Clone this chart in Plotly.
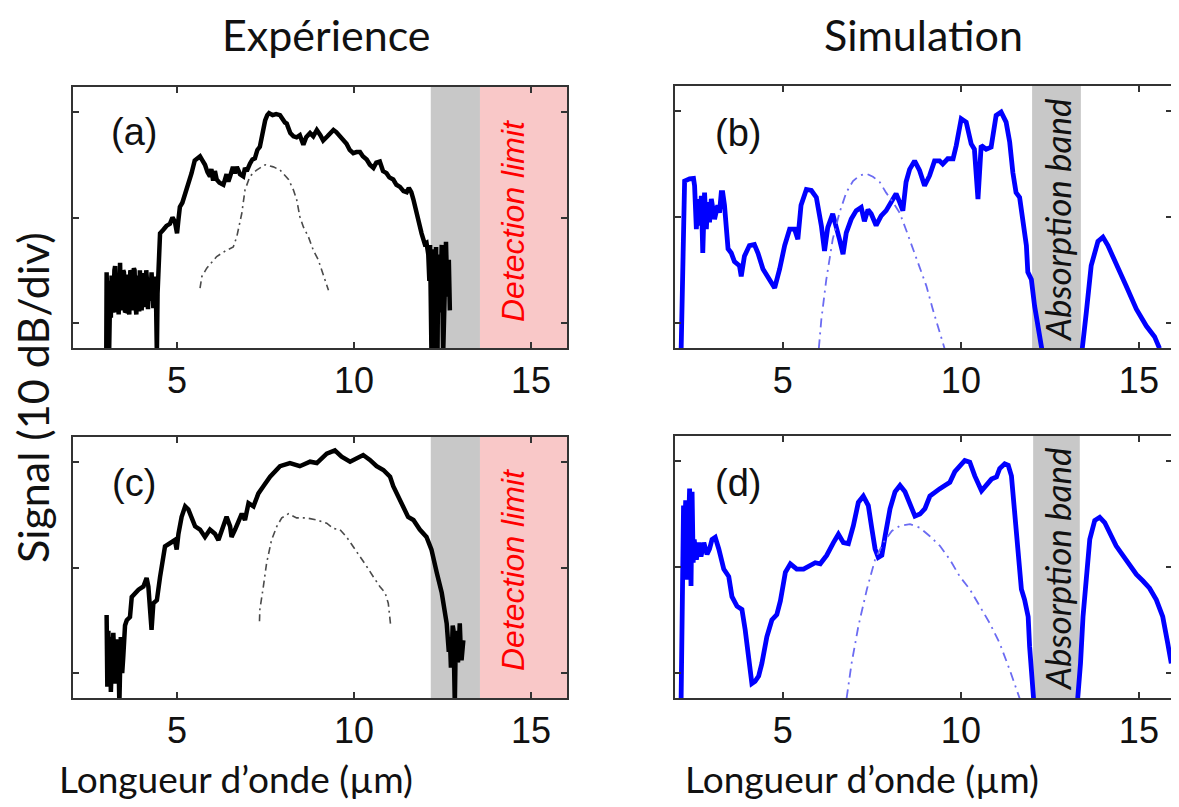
import plotly.graph_objects as go

W, H = 1179, 807
PAGE_PAD = 8  # browser body margin around the plot div

# ---- panel (a): experiment, top row -------------------------------------
a_x = [3.00, 3.01, 3.03, 3.04, 3.06, 3.08, 3.11, 3.13, 3.15, 3.18, 3.20, 3.23,
       3.25, 3.28, 3.30, 3.33, 3.35, 3.39, 3.42, 3.45, 3.48, 3.50, 3.53, 3.55,
       3.58, 3.60, 3.63, 3.65, 3.68, 3.70, 3.73, 3.75, 3.78, 3.80, 3.83, 3.85,
       3.88, 3.90, 3.93, 3.95, 3.98, 4.00, 4.03, 4.05, 4.08, 4.10, 4.13, 4.15,
       4.18, 4.20, 4.23, 4.25, 4.28, 4.30, 4.33, 4.35, 4.38, 4.40, 4.43, 4.45,
       4.48, 4.52,
       4.60, 4.70, 4.80, 4.87, 4.94, 5.00, 5.04, 5.08, 5.15, 5.27, 5.35, 5.41,
       5.50, 5.56, 5.65, 5.72, 5.79, 5.86, 5.93, 5.97, 6.02, 6.07, 6.12, 6.20,
       6.31, 6.40, 6.45, 6.50, 6.58, 6.63, 6.69, 6.78, 6.87, 6.92, 6.97, 7.06,
       7.13, 7.20, 7.27, 7.34, 7.40, 7.49, 7.55, 7.60, 7.70, 7.80, 7.91, 7.98,
       8.05, 8.10, 8.20, 8.29, 8.38, 8.47, 8.52, 8.57, 8.65, 8.76, 8.85, 8.95,
       9.05, 9.13, 9.25, 9.42, 9.50, 9.60, 9.70, 9.79, 9.88, 9.98, 10.07, 10.17,
       10.25, 10.36, 10.45, 10.55, 10.63, 10.73, 10.82, 10.92, 11.00, 11.11,
       11.20, 11.30, 11.40, 11.49, 11.55, 11.62, 11.68, 11.77, 11.85, 11.91,
       12.00, 12.05, 12.10, 12.13, 12.15, 12.17, 12.19, 12.21, 12.23, 12.26,
       12.28, 12.30, 12.32, 12.34, 12.36, 12.38, 12.40, 12.43, 12.45, 12.48,
       12.52, 12.56, 12.60, 12.64, 12.68, 12.71]
a_y = [-23, -15.2, -19.0, -17.5, -16.0, -23, -17.0, -19.5, -15.5, -19.0, -18.5,
       -15.0, -14.6, -19.0, -17.8, -15.3, -19.2, -14.3, -18.8, -17.5, -15.0,
       -15.2, -19.0, -18.9, -15.4, -16.0, -18.6, -19.2, -15.0, -15.2, -18.8,
       -17.5, -14.8, -15.0, -18.5, -19.2, -15.5, -16.4, -18.9, -15.0, -17.8,
       -18.8, -15.3, -15.5, -18.5, -17.2, -15.0, -16.0, -18.7, -15.8, -17.9,
       -17.3, -15.2, -16.1, -18.6, -17.5, -15.6, -16.5, -23, -17.2, -13.0,
       -11.5,
       -11.2, -10.8, -10.6, -10.0, -10.4, -11.5, -10.2, -9.0, -8.6, -7.4, -6.3,
       -5.8, -4.6, -4.4, -4.2, -4.6, -5.0, -5.7, -6.1, -5.4, -6.5, -5.6, -6.4,
       -6.7, -6.9, -5.9, -6.6, -6.1, -5.2, -5.8, -5.2, -5.9, -6.1, -5.3, -5.6,
       -4.9, -4.5, -4.4, -3.6, -3.3, -2.2, -0.8, -0.3, -0.1, -0.3, -0.2, -0.3,
       -0.7, -1.0, -1.1, -2.0, -2.3, -2.4, -2.2, -2.7, -3.1, -2.4, -2.0, -2.3,
       -1.7, -2.2, -2.7, -2.3, -1.7, -1.9, -2.3, -2.6, -3.0, -3.6, -3.9, -3.8,
       -3.8, -4.2, -4.5, -5.0, -5.3, -4.8, -4.7, -5.6, -5.8, -6.2, -6.4, -6.9,
       -7.1, -7.5, -7.6, -7.2, -7.6, -8.3, -9.6, -11.0, -11.5, -12.5, -12.4,
       -13.5, -16.0, -12.6, -20.0, -23, -14.0, -13.0, -23, -17.0, -13.2, -12.8,
       -20.5, -23, -14.5, -13.5, -19.0, -15.5, -12.6, -23, -16.0, -12.3, -17.5,
       -14.0, -18.8]
a_ref_x = [5.65, 5.70, 5.84, 6.12, 6.40, 6.59, 6.69, 6.83, 6.92, 7.06, 7.25,
           7.49, 7.72, 7.91, 8.15, 8.29, 8.38, 8.47, 8.57, 8.71, 8.85, 8.99,
           9.09, 9.18, 9.28]
a_ref_y = [-16.7, -15.6, -14.8, -13.7, -13.1, -12.8, -11.8, -9.6, -7.4, -6.1,
           -5.5, -5.0, -5.2, -5.5, -6.4, -7.4, -8.3, -9.9, -10.9, -11.8, -13.1,
           -14.0, -15.0, -15.9, -16.9]

# ---- panel (b): simulation, top row -------------------------------------
b_x = [2.14, 2.21, 2.24, 2.38, 2.49, 2.52, 2.57, 2.61, 2.66, 2.71, 2.75, 2.80,
       2.85, 2.89, 2.94, 2.99, 3.08, 3.17, 3.22, 3.27, 3.31, 3.36, 3.41, 3.46,
       3.55, 3.64, 3.78, 3.83, 3.92, 4.06, 4.20, 4.30, 4.44, 4.63, 4.77, 4.91,
       5.05, 5.19, 5.33, 5.42, 5.51, 5.66, 5.80, 5.94, 6.08, 6.17, 6.26, 6.40,
       6.50, 6.59, 6.69, 6.78, 6.92, 7.06, 7.20, 7.29, 7.39, 7.48, 7.62, 7.76,
       7.90, 8.04, 8.18, 8.28, 8.37, 8.46, 8.56, 8.70, 8.84, 8.98, 9.12, 9.26,
       9.40, 9.49, 9.63, 9.78, 9.87, 10.01, 10.15, 10.29, 10.38, 10.48, 10.57,
       10.71, 10.85, 10.99, 11.13, 11.27, 11.37, 11.46, 11.55, 11.65, 11.74,
       11.84, 11.88, 11.98, 12.07, 12.21, 12.32, 12.40,
       13.35, 13.41, 13.52, 13.66, 13.85, 13.99, 14.13, 14.36, 14.64, 14.93,
       15.21, 15.44, 15.58]
b_y = [-23, -6.7, -6.6, -6.4, -6.35, -7.05, -11.15, -8.3, -10.8, -8.0, -13.4,
       -7.7, -11.15, -8.6, -10.5, -8.3, -10.2, -8.9, -9.6, -7.7, -7.7, -8.9,
       -11.15, -13.0, -13.4, -14.2, -14.6, -15.6, -13.7, -12.7, -12.6, -13.4,
       -14.9, -15.9, -16.7, -14.9, -12.7, -11.15, -11.15, -12.1, -8.9, -7.4,
       -7.5, -8.15, -10.8, -13.2, -11.0, -9.7, -10.8, -12.1, -13.5, -11.5,
       -10.2, -9.4, -9.1, -10.4, -9.3, -9.7, -10.8, -9.9, -9.4, -8.6, -7.8,
       -8.6, -9.4, -6.7, -5.5, -4.7, -5.6, -7.05, -6.1, -4.7, -4.7, -5.0, -4.5,
       -4.5, -3.25, -0.73, -1.04, -3.1, -3.6, -8.3, -3.25, -3.6, -3.4, -0.41,
       -0.09, -1.04, -2.9, -5.8, -7.7, -8.15, -10.2, -12.7, -15.2, -15.9, -18.4,
       -20.9, -22.4, -25,
       -25, -22.4, -19.1, -14.6, -12.3, -11.9, -12.7, -14.3, -16.5, -18.7,
       -20.3, -21.3, -22.4]
b_ref_x = [6.01, 6.08, 6.22, 6.40, 6.59, 6.78, 6.97, 7.15, 7.34, 7.53, 7.72,
           7.90, 8.09, 8.28, 8.46, 8.65, 8.84, 9.03, 9.21, 9.40, 9.54]
b_ref_y = [-22.4, -19.7, -15.9, -12.1, -9.6, -7.7, -6.6, -6.1, -5.9, -6.2,
           -6.7, -7.7, -8.6, -9.6, -11.2, -13.0, -14.6, -16.5, -18.7, -20.9,
           -22.4]

# ---- panel (c): experiment, bottom row ----------------------------------
c_x = [3.01, 3.03, 3.06, 3.08, 3.11, 3.13, 3.15, 3.20, 3.25, 3.28, 3.31, 3.34,
       3.37, 3.41, 3.45, 3.48, 3.53, 3.58, 3.67, 3.72,
       3.91, 4.05, 4.14, 4.19, 4.24, 4.28, 4.33, 4.43, 4.52, 4.66, 4.80, 4.94,
       4.99, 5.04, 5.13, 5.23, 5.32, 5.41, 5.51, 5.65, 5.79, 5.93, 6.07, 6.17,
       6.31, 6.40, 6.50, 6.54, 6.64, 6.73, 6.83, 6.92, 7.02, 7.16, 7.30, 7.44,
       7.63, 7.91, 8.19, 8.47, 8.76, 8.95, 9.23, 9.46, 9.65, 9.89, 10.08,
       10.26, 10.45, 10.64, 10.83, 11.02, 11.11, 11.25, 11.39, 11.53, 11.68,
       11.86, 12.05, 12.19, 12.34, 12.48, 12.62, 12.68, 12.71, 12.74, 12.76,
       12.79, 12.81, 12.85, 12.88, 12.90, 12.94, 12.99, 13.02, 13.04, 13.09]
c_y = [-14.5, -21.3, -16.0, -20.5, -16.6, -21.8, -19.7, -16.2, -21.0, -16.8,
       -21.0, -17.5, -23, -16.6, -20.0, -18.5, -15.5, -15.0, -14.7, -12.8,
       -12.1, -11.8, -11.0, -11.8, -14.0, -15.9, -13.4, -13.1,
       -10.9, -8.0, -7.7, -7.4, -8.3, -6.8, -5.2, -4.2, -4.5, -5.2, -6.1, -6.4,
       -7.1, -6.4, -6.8, -7.4, -6.1, -5.2, -6.1, -7.1, -6.4, -5.8, -4.9, -5.5,
       -3.9, -4.2, -2.97, -2.3, -1.4, -0.4, -0.1, -0.4, 0.03, -0.1, 0.8, 1.1,
       0.5, 0.03, 0.35, 0.66, 0.2, -0.4, -0.76, -1.4, -2.3, -3.3, -4.2, -5.2,
       -5.5, -6.4, -7.1, -8.3, -10.5, -12.4, -15.3, -18.0, -16.6, -19.5, -18.5,
       -15.5, -15.9, -23, -16.0, -17.5, -19.0, -15.3, -18.0, -18.8, -16.9]
c_ref_x = [7.33, 7.34, 7.44, 7.53, 7.67, 7.82, 7.96, 8.15, 8.38, 8.66, 8.95,
           9.23, 9.42, 9.60, 9.79, 9.98, 10.17, 10.36, 10.55, 10.73, 10.88,
           10.97, 11.04]
c_ref_y = [-15.1, -14.0, -11.8, -9.6, -7.4, -6.1, -5.3, -4.9, -5.3, -5.3,
           -5.5, -5.8, -6.3, -6.4, -7.1, -8.0, -9.0, -9.9, -10.9, -11.8, -12.4,
           -13.4, -15.6]

# ---- panel (d): simulation, bottom row ----------------------------------
d_x = [2.14, 2.17, 2.21, 2.24, 2.27, 2.31, 2.36, 2.38, 2.42, 2.45, 2.48, 2.51,
       2.57, 2.64, 2.70, 2.78, 2.87, 2.94, 3.01, 3.10, 3.20, 3.34, 3.48, 3.57,
       3.71, 3.85, 3.94, 4.04, 4.13, 4.22, 4.32, 4.41, 4.55, 4.69, 4.83, 4.93,
       5.07, 5.21, 5.39, 5.58, 5.77, 5.91, 6.05, 6.23, 6.42, 6.56, 6.70, 6.84,
       6.98, 7.12, 7.26, 7.40, 7.50, 7.59, 7.68, 7.78, 7.87, 8.01, 8.15, 8.29,
       8.43, 8.57, 8.71, 8.85, 8.99, 9.13, 9.27, 9.41, 9.55, 9.69, 9.83, 9.97,
       10.11, 10.25, 10.39, 10.58, 10.72, 10.86, 11.00, 11.09, 11.23, 11.33,
       11.42, 11.51, 11.61, 11.70, 11.79, 11.89, 11.93, 11.98, 12.03, 12.10,
       13.22, 13.29, 13.36, 13.43, 13.52, 13.62, 13.76, 13.90, 14.04, 14.18,
       14.36, 14.55, 14.74, 14.93, 15.11, 15.30, 15.49, 15.67, 15.81, 15.91]
d_y = [-23, -12.1, -4.2, -7.4, -3.7, -11.2, -5.8, -2.6, -11.8, -2.9, -9.6,
       -7.4, -9.3, -7.7, -9.0, -7.7, -8.8, -8.3, -7.4, -7.2, -8.3, -10.2,
       -10.9, -12.8, -13.7, -14.0, -15.9, -18.4, -21.0, -20.8, -20.3, -19.1,
       -16.6, -15.0, -14.5, -13.2, -10.5, -9.7, -10.2, -10.2, -9.9, -9.6, -9.7,
       -8.9, -7.7, -6.9, -7.7, -7.8, -6.1, -3.9, -3.3, -4.2, -6.4, -8.3, -9.1,
       -8.9, -7.1, -4.5, -2.9, -2.3, -2.9, -4.2, -5.2, -5.0, -4.5, -3.3, -2.9,
       -2.6, -2.3, -2.0, -1.0, -0.4, 0.06, -0.1, -1.4, -2.8, -2.3, -1.7, -1.5,
       -0.7, -0.25, -0.4, -1.4, -4.8, -8.8, -12.1, -13.1, -14.7, -17.5, -21.0,
       -22.4, -25,
       -25, -22.4, -19.1, -14.7, -10.5, -7.4, -5.6, -5.3, -5.8, -6.7, -8.0,
       -8.9, -9.9, -10.7, -11.3, -12.0, -13.1, -14.7, -17.2, -19.1]
d_ref_x = [6.79, 6.93, 7.12, 7.36, 7.59, 7.82, 8.06, 8.29, 8.57, 8.85, 9.13,
           9.41, 9.69, 9.97, 10.25, 10.53, 10.81, 11.09, 11.37, 11.65]
d_ref_y = [-22.4, -19.1, -15.6, -12.1, -9.3, -7.7, -6.6, -6.1, -5.95, -6.3,
           -7.1, -8.0, -9.3, -10.9, -12.1, -13.7, -15.3, -17.2, -19.7, -22.4]

# bands (µm)
exp_gray = (12.17, 13.56)
exp_pink = (13.56, 16.1)
sim_gray_top = (12.0, 13.37)
sim_gray_bot = (12.03, 13.34)

XTICKS = [5, 10, 15]
YTICKS = [-20, -10, 0]

BLACK = "#000000"
BLUE = "#0000ff"
REF_BLACK = "#4a4a4a"
REF_BLUE = "#6b6bf2"
GRAY = "#c8c8c8"
PINK = "#f9c8c8"
FRAME = "#333333"


def fx(px):
    return (px - PAGE_PAD) / W


def fy(py):
    return 1 - (py - PAGE_PAD) / H


# panel boxes in page pixels: (left, top, right, bottom)
boxes = {
    1: (73, 87, 567, 348),
    2: (675, 86, 1172, 348),
    3: (73, 437, 567, 698),
    4: (675, 436, 1172, 698),
}
xranges = {1: [2.06, 16.02], 2: [1.97, 15.93], 3: [2.06, 16.02], 4: [1.97, 15.93]}

fig = go.Figure()

series = [
    (1, a_x, a_y, BLACK, 4.5, None),
    (1, a_ref_x, a_ref_y, REF_BLACK, 1.6, "7px,4px,2px,4px"),
    (2, b_x, b_y, BLUE, 4.8, None),
    (2, b_ref_x, b_ref_y, REF_BLUE, 1.8, "9px,5px,2px,5px"),
    (3, c_x, c_y, BLACK, 4.5, None),
    (3, c_ref_x, c_ref_y, REF_BLACK, 1.6, "7px,4px,2px,4px"),
    (4, d_x, d_y, BLUE, 4.8, None),
    (4, d_ref_x, d_ref_y, REF_BLUE, 1.8, "9px,5px,2px,5px"),
]
for k, xs, ys, col, w, dash in series:
    suf = "" if k == 1 else str(k)
    fig.add_trace(go.Scatter(
        x=xs, y=ys, mode="lines", xaxis="x" + suf, yaxis="y" + suf,
        line=dict(color=col, width=w, dash=dash or "solid"),
        showlegend=False, hoverinfo="skip"))

layout = {}
for k, (l, t, r, b) in boxes.items():
    suf = "" if k == 1 else str(k)
    layout["xaxis" + suf] = dict(
        domain=[fx(l), fx(r)], range=xranges[k], anchor="y" + suf,
        tickvals=XTICKS, ticktext=[str(v) for v in XTICKS],
        ticks="inside", ticklen=6, tickwidth=1.5, tickcolor=FRAME,
        showline=True, linecolor=FRAME, linewidth=2, mirror="ticks",
        showgrid=False, zeroline=False, automargin=False,
        tickfont=dict(family="Liberation Sans, Arial", size=36, color="#111"),
        ticklabelstandoff=0)
    layout["yaxis" + suf] = dict(
        domain=[fy(b), fy(t)], range=[-22.37, 2.37], anchor="x" + suf,
        tickvals=YTICKS, showticklabels=False, automargin=False,
        ticks="inside", ticklen=6, tickwidth=1.5, tickcolor=FRAME,
        showline=True, linecolor=FRAME, linewidth=2, mirror="ticks",
        showgrid=False, zeroline=False)

shapes = []
for k, band, col in [(1, exp_gray, GRAY), (1, exp_pink, PINK),
                     (3, exp_gray, GRAY), (3, exp_pink, PINK),
                     (2, sim_gray_top, GRAY), (4, sim_gray_bot, GRAY)]:
    suf = "" if k == 1 else str(k)
    shapes.append(dict(type="rect", xref="x" + suf, yref="y" + suf + " domain",
                       x0=band[0], x1=band[1], y0=0, y1=1, fillcolor=col,
                       line=dict(width=0), layer="below"))

CAL = "Lato, Carlito, Calibri, sans-serif"
ARIAL = "Liberation Sans, Arial, sans-serif"


def note(text, x, y, size, family, color="#111", angle=0):
    return dict(text=text, x=fx(x), y=fy(y), xref="paper", yref="paper",
                showarrow=False, xanchor="center", yanchor="middle",
                textangle=angle, borderpad=0,
                font=dict(family=family, size=size, color=color))


annotations = [
    note("Expérience", 327, 35, 43, CAL),
    note("Simulation", 923, 35, 43, CAL),
    note("Signal (10 dB/div)", 32, 398, 43, CAL, angle=-90),
    note("Longueur d’onde (µm)", 236, 778, 37, CAL),
    note("Longueur d’onde (µm)", 862, 778, 37, CAL),
    note("(a)", 134, 132, 38, ARIAL),
    note("(b)", 738, 133, 38, ARIAL),
    note("(c)", 134, 483, 38, ARIAL),
    note("(d)", 738, 483, 38, ARIAL),
    note("<i>Detection limit</i>", 513, 221, 32, ARIAL, "#ff0000", -90),
    note("<i>Detection limit</i>", 513, 570, 32, ARIAL, "#ff0000", -90),
    note("<i>Absorption band</i>", 1057, 220, 35, CAL, "#111", -90),
    note("<i>Absorption band</i>", 1057, 569, 35, CAL, "#111", -90),
]

fig.update_layout(
    width=W, height=H, margin=dict(l=0, r=0, t=0, b=0, autoexpand=False),
    paper_bgcolor="white", plot_bgcolor="white",
    shapes=shapes, annotations=annotations, **layout)

fig.write_html("out.html")
